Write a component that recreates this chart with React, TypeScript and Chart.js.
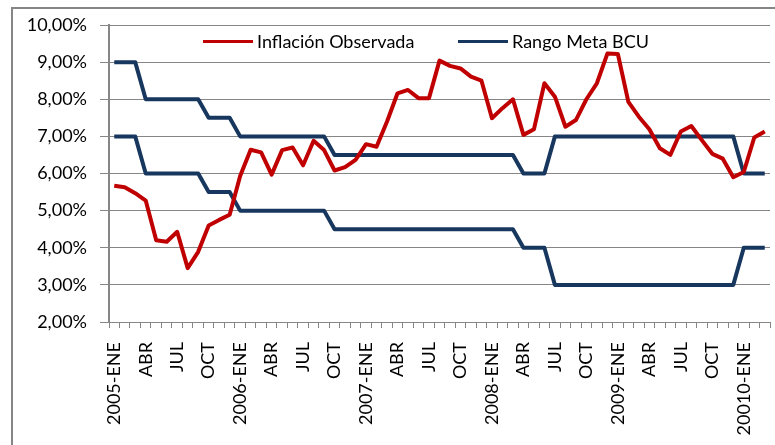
import React, { useEffect, useRef } from "react";
import { Chart, registerables } from "chart.js";

Chart.register(...registerables);

const categories: string[] = [
  "2005-ENE", "FEB", "MAR", "ABR", "MAY", "JUN", "JUL", "AGO", "SEP", "OCT", "NOV", "DIC",
  "2006-ENE", "FEB", "MAR", "ABR", "MAY", "JUN", "JUL", "AGO", "SEP", "OCT", "NOV", "DIC",
  "2007-ENE", "FEB", "MAR", "ABR", "MAY", "JUN", "JUL", "AGO", "SEP", "OCT", "NOV", "DIC",
  "2008-ENE", "FEB", "MAR", "ABR", "MAY", "JUN", "JUL", "AGO", "SEP", "OCT", "NOV", "DIC",
  "2009-ENE", "FEB", "MAR", "ABR", "MAY", "JUN", "JUL", "AGO", "SEP", "OCT", "NOV", "DIC",
  "20010-ENE", "FEB", "MAR",
];

const inflacionObservada: number[] = [
  5.67, 5.63, 5.47, 5.27, 4.2, 4.16, 4.43, 3.45, 3.89, 4.6, 4.75, 4.89,
  5.93, 6.64, 6.57, 5.97, 6.63, 6.7, 6.22, 6.88, 6.63, 6.08, 6.17, 6.37,
  6.79, 6.72, 7.4, 8.16, 8.25, 8.03, 8.03, 9.04, 8.9, 8.83, 8.61, 8.5,
  7.49, 7.76, 8.0, 7.04, 7.19, 8.43, 8.07, 7.26, 7.44, 8.0, 8.43, 9.23,
  9.22, 7.93, 7.53, 7.19, 6.68, 6.5, 7.13, 7.28, 6.9, 6.53, 6.4, 5.9,
  6.04, 6.97, 7.13,
];

const metaSuperior: number[] = [
  9, 9, 9, 8, 8, 8, 8, 8, 8, 7.5, 7.5, 7.5,
  7, 7, 7, 7, 7, 7, 7, 7, 7, 6.5, 6.5, 6.5,
  6.5, 6.5, 6.5, 6.5, 6.5, 6.5, 6.5, 6.5, 6.5, 6.5, 6.5, 6.5,
  6.5, 6.5, 6.5, 6, 6, 6, 7, 7, 7, 7, 7, 7,
  7, 7, 7, 7, 7, 7, 7, 7, 7, 7, 7, 7,
  6, 6, 6,
];

const metaInferior: number[] = [
  7, 7, 7, 6, 6, 6, 6, 6, 6, 5.5, 5.5, 5.5,
  5, 5, 5, 5, 5, 5, 5, 5, 5, 4.5, 4.5, 4.5,
  4.5, 4.5, 4.5, 4.5, 4.5, 4.5, 4.5, 4.5, 4.5, 4.5, 4.5, 4.5,
  4.5, 4.5, 4.5, 4, 4, 4, 3, 3, 3, 3, 3, 3,
  3, 3, 3, 3, 3, 3, 3, 3, 3, 3, 3, 3,
  4, 4, 4,
];

const yTicks: number[] = [2, 3, 4, 5, 6, 7, 8, 9, 10];

const seriesNames = ["Inflación Observada", "Rango Meta BCU"];
const RED = "#C00000";
const NAVY = "#17375E";
const GRID = "#868686";

const frame = {
  id: "frame",
  beforeDraw(chart: any) {
    const ctx = chart.ctx;
    ctx.save();
    ctx.fillStyle = "#ffffff";
    ctx.fillRect(0, 0, chart.width, chart.height);
    ctx.fillStyle = GRID;
    ctx.fillRect(11, 7, 2, chart.height - 7);
    ctx.fillRect(11, 7, chart.width - 11, 2);
    ctx.restore();
  },
};

export default function App() {
  const ref = useRef<HTMLCanvasElement | null>(null);

  useEffect(() => {
    if (!ref.current) return;
    const chart = new Chart(ref.current, {
      type: "line",
      data: {
        labels: categories,
        datasets: [
          {
            label: seriesNames[0],
            data: inflacionObservada,
            borderColor: RED,
            backgroundColor: RED,
            borderWidth: 4,
            pointRadius: 0,
            tension: 0,
            borderJoinStyle: "round",
          },
          {
            label: seriesNames[1],
            data: metaSuperior,
            borderColor: NAVY,
            backgroundColor: NAVY,
            borderWidth: 4,
            pointRadius: 0,
            tension: 0,
            borderJoinStyle: "round",
          },
          {
            label: seriesNames[1] + " inferior",
            data: metaInferior,
            borderColor: NAVY,
            backgroundColor: NAVY,
            borderWidth: 4,
            pointRadius: 0,
            tension: 0,
            borderJoinStyle: "round",
          },
        ],
      },
      options: {
        animation: false,
        responsive: false,
        maintainAspectRatio: false,
        layout: { padding: { left: 0, right: 5, top: 25, bottom: 0 } },
        plugins: {
          legend: { display: false },
          tooltip: { enabled: false },
        },
        scales: {
          x: {
            type: "category",
            offset: true,
            grid: {
              display: true,
              offset: true,
              drawOnChartArea: false,
              drawTicks: true,
              tickLength: 6,
              color: GRID,
              lineWidth: 1,
            },
            border: { display: true, color: GRID, width: 1 },
            ticks: {
              autoSkip: false,
              maxRotation: 90,
              minRotation: 90,
              padding: 14,
              color: "#000",
              font: { family: "Lato", size: 18 },
              callback: (_v: any, i: number) => (i % 3 === 0 ? categories[i] : ""),
            },
            afterFit: (s: any) => {
              s.height = 123;
              s.paddingLeft = 0;
              s.paddingRight = 0;
            },
          },
          y: {
            min: yTicks[0],
            max: yTicks[yTicks.length - 1],
            afterBuildTicks: (s: any) => {
              s.ticks = yTicks.map((v) => ({ value: v }));
            },
            grid: {
              color: GRID,
              lineWidth: 1,
              drawTicks: true,
              tickLength: 9,
            },
            border: { display: true, color: GRID, width: 2 },
            ticks: {
              padding: 13,
              color: "#000",
              font: { family: "Lato", size: 18 },
              callback: (v: any) => Number(v).toFixed(2).replace(".", ",") + "%",
            },
            afterFit: (s: any) => {
              s.width = 109;
            },
          },
        },
      },
      plugins: [frame],
    });
    return () => chart.destroy();
  }, []);

  const legendText: React.CSSProperties = {
    position: "absolute",
    top: 29,
    height: 24,
    lineHeight: "24px",
    fontFamily: "Lato",
    fontSize: 18,
    color: "#000",
    whiteSpace: "nowrap",
  };
  const legendLine = (color: string, left: number): React.CSSProperties => ({
    position: "absolute",
    left,
    top: 40,
    width: 50,
    height: 3,
    background: color,
  });

  return (
    <div style={{ position: "absolute", left: 0, top: 0, width: 775, height: 445, background: "#fff", overflow: "hidden" }}>
      <canvas ref={ref} width={775} height={445} style={{ display: "block", width: 775, height: 445 }} />
      <div style={legendLine(RED, 203)} />
      <div style={{ ...legendText, left: 257 }}>{seriesNames[0]}</div>
      <div style={legendLine(NAVY, 458)} />
      <div style={{ ...legendText, left: 512 }}>{seriesNames[1]}</div>
    </div>
  );
}
